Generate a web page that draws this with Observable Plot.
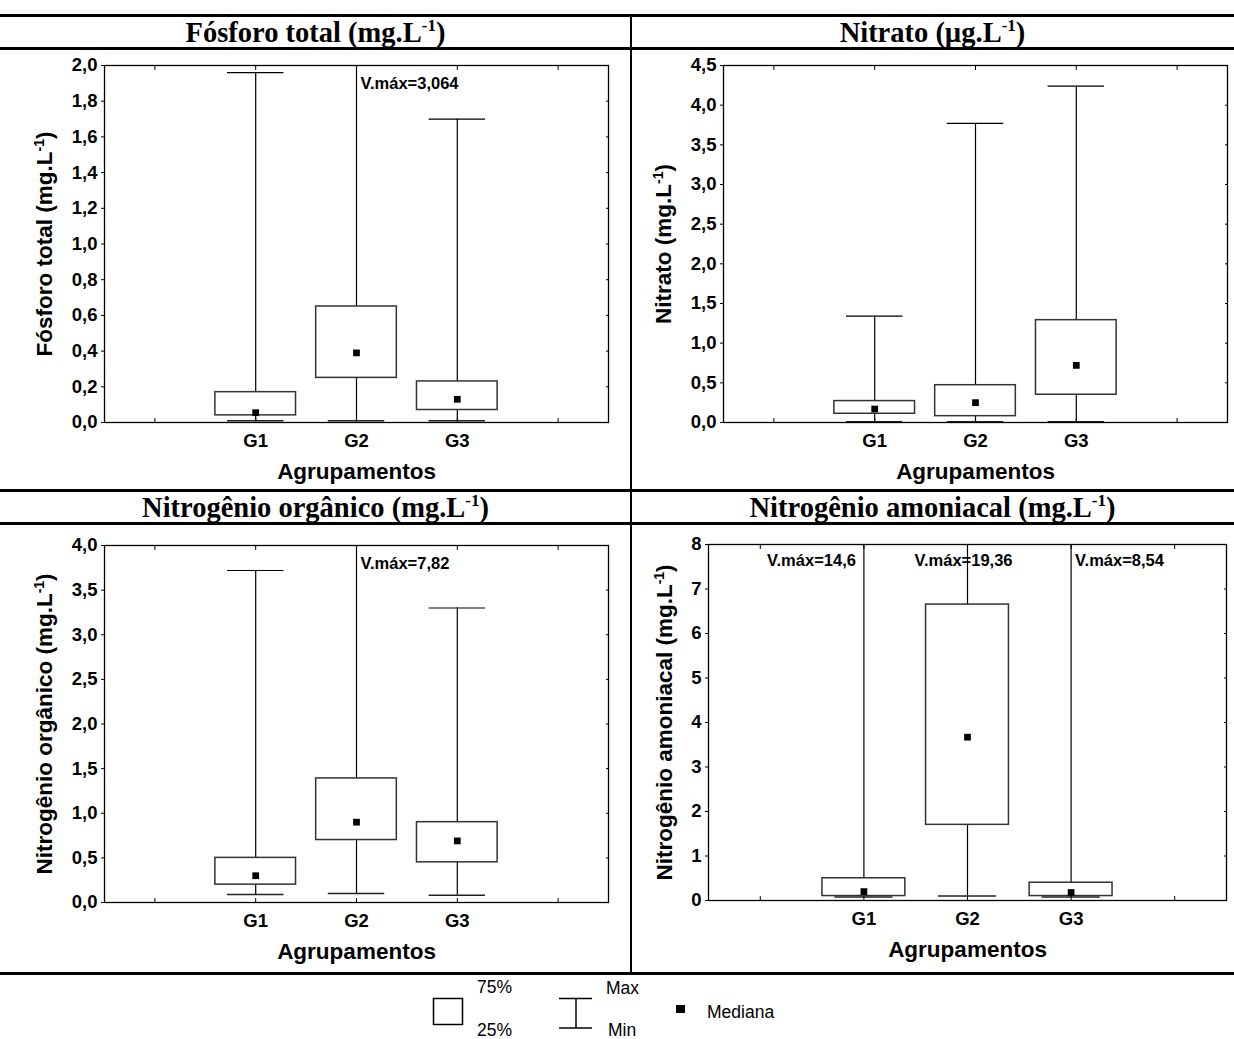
<!DOCTYPE html>
<html><head><meta charset="utf-8">
<script src="https://cdn.jsdelivr.net/npm/d3@7"></script>
<script src="https://cdn.jsdelivr.net/npm/@observablehq/plot@0.6"></script>
<style>
body{margin:0;background:#fff;}
#wrap{position:relative;width:1234px;height:1039px;background:#fff;overflow:hidden;}
.hl{position:absolute;left:0;width:1234px;height:3px;background:#000;}
.vl{position:absolute;left:630px;top:14px;width:2px;height:960px;background:#000;}
.title{position:absolute;height:33px;line-height:33px;text-align:center;font-family:"Liberation Serif","Times New Roman",serif;font-weight:bold;font-size:28.5px;color:#000;}
.title sup{font-size:17px;vertical-align:11px;line-height:0;}
.panel{position:absolute;}
.panel svg g[aria-label="x-axis label"] text{font-size:22.5px;}
.panel svg g[aria-label="y-axis label"] text{font-size:22.5px;}
.panel svg g[aria-label="text"] text{font-size:16.5px;}
</style>
</head><body>
<div id="wrap">
  <div class="hl" style="top:14px"></div>
  <div class="hl" style="top:47px"></div>
  <div class="hl" style="top:489px"></div>
  <div class="hl" style="top:522px"></div>
  <div class="hl" style="top:972px"></div>
  <div class="vl"></div>
  <div class="title" style="left:0;width:631px;top:16px">Fósforo total (mg.L<sup>-1</sup>)</div>
  <div class="title" style="left:631px;width:603px;top:16px">Nitrato (µg.L<sup>-1</sup>)</div>
  <div class="title" style="left:0;width:631px;top:491px">Nitrogênio orgânico (mg.L<sup>-1</sup>)</div>
  <div class="title" style="left:631px;width:603px;top:491px">Nitrogênio amoniacal (mg.L<sup>-1</sup>)</div>
  <div class="panel" id="p1" style="left:0;top:50px"></div>
  <div class="panel" id="p2" style="left:632px;top:50px"></div>
  <div class="panel" id="p3" style="left:0;top:525px"></div>
  <div class="panel" id="p4" style="left:632px;top:525px"></div>
  <svg id="legend" width="1234" height="64" style="position:absolute;left:0;top:975px" font-family="Liberation Sans, Arial, sans-serif" font-size="17.5">
    <rect x="433.5" y="23.5" width="29" height="26" fill="#fff" stroke="#000" stroke-width="1.5"/>
    <text x="477" y="18">75%</text>
    <text x="477" y="61">25%</text>
    <line x1="559" x2="592" y1="23.5" y2="23.5" stroke="#000" stroke-width="1.5"/>
    <line x1="576" x2="576" y1="23.5" y2="53" stroke="#000" stroke-width="1.5"/>
    <line x1="559" x2="592" y1="53" y2="53" stroke="#000" stroke-width="1.5"/>
    <text x="606" y="19">Max</text>
    <text x="608" y="61">Min</text>
    <rect x="676" y="30" width="9" height="8" fill="#000"/>
    <text x="707" y="43">Mediana</text>
  </svg>
</div>
<script>
// ---- data ----
const groups = ["G1", "G2", "G3"];
const xPositions = [2, 3, 4];
const slotTicks = [1, 2, 3, 4, 5];

// Fósforo total (mg/L)
const fosforoMin = [0.01, 0.01, 0.01];
const fosforoQ1 = [0.04, 0.25, 0.07];
const fosforoMed = [0.055, 0.39, 0.13];
const fosforoQ3 = [0.17, 0.65, 0.23];
const fosforoMax = [1.96, 3.064, 1.70];
const fosforoTicks = [0, 0.2, 0.4, 0.6, 0.8, 1.0, 1.2, 1.4, 1.6, 1.8, 2.0];
const fosforoVmax = [{x: 3, text: "V.máx=3,064", anchor: "start"}];

// Nitrato
const nitratoMin = [0.01, 0.01, 0.01];
const nitratoQ1 = [0.11, 0.08, 0.35];
const nitratoMed = [0.17, 0.25, 0.72];
const nitratoQ3 = [0.27, 0.47, 1.29];
const nitratoMax = [1.34, 3.77, 4.24];
const nitratoTicks = [0, 0.5, 1.0, 1.5, 2.0, 2.5, 3.0, 3.5, 4.0, 4.5];
const nitratoVmax = [];

// Nitrogênio orgânico
const organicoMin = [0.09, 0.10, 0.08];
const organicoQ1 = [0.20, 0.70, 0.45];
const organicoMed = [0.30, 0.90, 0.69];
const organicoQ3 = [0.50, 1.39, 0.90];
const organicoMax = [3.72, 7.82, 3.30];
const organicoTicks = [0, 0.5, 1.0, 1.5, 2.0, 2.5, 3.0, 3.5, 4.0];
const organicoVmax = [{x: 3, text: "V.máx=7,82", anchor: "start"}];

// Nitrogênio amoniacal
const amoniacalMin = [0.08, 0.10, 0.08];
const amoniacalQ1 = [0.10, 1.70, 0.10];
const amoniacalMed = [0.20, 3.67, 0.18];
const amoniacalQ3 = [0.50, 6.65, 0.40];
const amoniacalMax = [14.6, 19.36, 8.54];
const amoniacalTicks = [0, 1, 2, 3, 4, 5, 6, 7, 8];
const amoniacalVmax = [
  {x: 2, text: "V.máx=14,6", anchor: "end"},
  {x: 3, text: "V.máx=19,36", anchor: "middle"},
  {x: 4, text: "V.máx=8,54", anchor: "start"}
];

const FONT = '"Liberation Sans", Arial, Helvetica, sans-serif';
const ns = "http://www.w3.org/2000/svg";

function superscript(svg) {
  svg.querySelectorAll("text").forEach(t => {
    const s = t.textContent;
    const i = s.indexOf("L-1");
    if (i < 0 || t.querySelector("tspan")) return;
    t.textContent = "";
    t.append(s.slice(0, i + 1));
    const sup = document.createElementNS(ns, "tspan");
    sup.setAttribute("dy", "-8");
    sup.setAttribute("font-size", "14");
    sup.textContent = "-1";
    t.append(sup);
    const rest = document.createElementNS(ns, "tspan");
    rest.setAttribute("dy", "8");
    rest.textContent = s.slice(i + 3);
    t.append(rest);
  });
}

function panel(o) {
  const rows = groups.map((g, i) => ({
    g, x: xPositions[i], min: o.min[i], q1: o.q1[i], med: o.med[i], q3: o.q3[i], max: o.max[i]
  }));
  const top = o.ticks[o.ticks.length - 1];
  const labelOf = new Map(xPositions.map((x, i) => [x, groups[i]]));
  const vmaxMarks = o.vmax.map(v => Plot.text([v], {
    x: "x", y: () => top, text: "text", textAnchor: v.anchor,
    dx: v.anchor === "start" ? 4 : v.anchor === "end" ? -8 : -4, dy: o.vdy,
    fontWeight: "bold", fill: "#000"
  }));
  const svg = Plot.plot({
    width: o.width, height: o.height,
    marginTop: o.mt, marginRight: o.mr, marginBottom: o.mb, marginLeft: o.ml,
    style: {fontFamily: FONT, fontSize: "18.5px", fontWeight: "bold", color: "#000", background: "#fff", overflow: "visible"},
    x: {domain: [0.5, 5.5]},
    y: {domain: [0, top]},
    marks: [
      Plot.ruleX(rows, {x: "x", y1: "min", y2: "max", stroke: "#000", strokeWidth: 1.2, clip: true}),
      Plot.ruleY(rows, {y: "max", x1: d => d.x - 0.28, x2: d => d.x + 0.28, stroke: "#000", strokeWidth: 1.2, clip: true}),
      Plot.ruleY(rows, {y: "min", x1: d => d.x - 0.28, x2: d => d.x + 0.28, stroke: "#222", strokeWidth: 1.5, clip: true}),
      Plot.rect(rows, {x1: d => d.x - 0.4, x2: d => d.x + 0.4, y1: "q1", y2: "q3", fill: "#fff", stroke: "#333", strokeWidth: 1.5}),
      Plot.dot(rows, {x: "x", y: "med", symbol: "square", r: 3.8, fill: "#000", stroke: null}),
      ...vmaxMarks,
      Plot.axisY({anchor: "left", ticks: o.ticks, tickSize: 3, tickPadding: 4, tickFormat: o.fmt,
        label: o.ylabel, labelAnchor: "center", labelOffset: o.lo, labelArrow: "none"}),
      Plot.axisY({anchor: "right", ticks: o.ticks, tickSize: -3, tickFormat: () => "", label: null}),
      Plot.axisX({anchor: "top", ticks: slotTicks, tickSize: -4, tickFormat: () => "", label: null}),
      Plot.axisX({anchor: "bottom", ticks: slotTicks, tickSize: -4, tickFormat: () => "", label: null}),
      Plot.axisX({anchor: "bottom", ticks: xPositions, tickSize: 0, tickPadding: 11, tickFormat: d => labelOf.get(d),
        label: "Agrupamentos", labelAnchor: "center", labelOffset: 56, labelArrow: "none"}),
      Plot.frame({stroke: "#000", strokeWidth: 1.3})
    ]
  });
  superscript(svg);
  return svg;
}

const f1 = d => d.toFixed(1).replace(".", ",");
const f0 = d => String(d);

document.getElementById("p1").append(panel({
  min: fosforoMin, q1: fosforoQ1, med: fosforoMed, q3: fosforoQ3, max: fosforoMax,
  ticks: fosforoTicks, fmt: f1, ylabel: "Fósforo total (mg.L-1)", vmax: fosforoVmax, vdy: 18,
  width: 630, height: 439, mt: 15, mr: 22, mb: 67, ml: 104, lo: 68
}));
document.getElementById("p2").append(panel({
  min: nitratoMin, q1: nitratoQ1, med: nitratoMed, q3: nitratoQ3, max: nitratoMax,
  ticks: nitratoTicks, fmt: f1, ylabel: "Nitrato (mg.L-1)", vmax: nitratoVmax, vdy: 18,
  width: 602, height: 439, mt: 15, mr: 7, mb: 67, ml: 91, lo: 68
}));
document.getElementById("p3").append(panel({
  min: organicoMin, q1: organicoQ1, med: organicoMed, q3: organicoQ3, max: organicoMax,
  ticks: organicoTicks, fmt: f1, ylabel: "Nitrogênio orgânico (mg.L-1)", vmax: organicoVmax, vdy: 18,
  width: 630, height: 447, mt: 20, mr: 22, mb: 70, ml: 104, lo: 68
}));
document.getElementById("p4").append(panel({
  min: amoniacalMin, q1: amoniacalQ1, med: amoniacalMed, q3: amoniacalQ3, max: amoniacalMax,
  ticks: amoniacalTicks, fmt: f0, ylabel: "Nitrogênio amoniacal (mg.L-1)", vmax: amoniacalVmax, vdy: 16,
  width: 602, height: 447, mt: 19, mr: 8, mb: 72, ml: 76, lo: 52
}));
</script>
</body></html>
